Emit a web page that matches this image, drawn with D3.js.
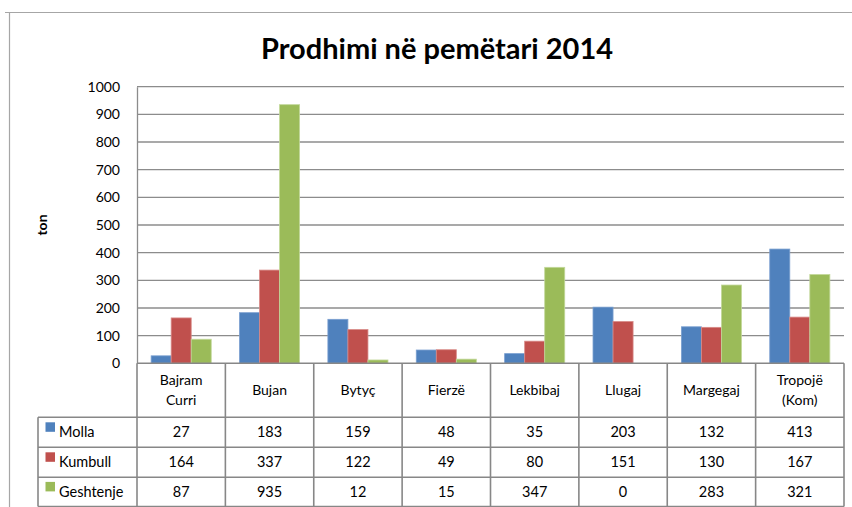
<!DOCTYPE html>
<html>
<head>
<meta charset="utf-8">
<script src="https://cdn.jsdelivr.net/npm/d3@7"></script>
<style>
  body { margin: 0; background: #fff; }
  svg { display: block; font-family: Lato, "Open Sans", sans-serif; }
</style>
</head>
<body>
<svg id="chart" width="852" height="507"></svg>
<script>
const categories = ['Bajram Curri', 'Bujan', 'Bytyç', 'Fierzë', 'Lekbibaj', 'Llugaj', 'Margegaj', 'Tropojë (Kom)'];
const seriesNames = ['Molla', 'Kumbull', 'Geshtenje'];
const molla = [27, 183, 159, 48, 35, 203, 132, 413];
const kumbull = [164, 337, 122, 49, 80, 151, 130, 167];
const geshtenje = [87, 935, 12, 15, 347, 0, 283, 321];
const yTicks = [0, 100, 200, 300, 400, 500, 600, 700, 800, 900, 1000];
const colors = ['#4F81BD', '#C0504D', '#9BBB59'];
const strokes = ['#7a9fd0', '#d88a88', '#c2d89a'];

const series = [molla, kumbull, geshtenje];

const svg = d3.select('#chart');

const plot = { left: 137, right: 844, top: 86.7, bottom: 363.3 };
const rows = [363.3, 417.3, 447.3, 477.3, 506.5];
const legendLeft = 38;

// outer frame
svg.append('path')
    .attr('d', 'M5,12.5 H852 M9.5,12.5 V507')
    .attr('stroke', '#a6a6a6')
    .attr('stroke-width', 1.2)
    .attr('fill', 'none');

svg.append('text')
    .attr('x', 437)
    .attr('y', 58.5)
    .attr('text-anchor', 'middle')
    .attr('font-size', 29)
    .attr('font-weight', 'bold')
    .attr('fill', '#000')
    .text('Prodhimi në pemëtari 2014');

const x = d3.scaleBand()
    .domain(categories)
    .range([plot.left, plot.right])
    .paddingInner(0.32)
    .paddingOuter(0.16);

const xs = d3.scaleBand()
    .domain(d3.range(series.length))
    .range([0, x.bandwidth()]);

const y = d3.scaleLinear()
    .domain([0, 1000])
    .range([plot.bottom, plot.top]);

// gridlines
svg.append('g')
    .selectAll('line')
    .data(yTicks.filter(d => d > 0))
    .join('line')
    .attr('x1', plot.left)
    .attr('x2', plot.right)
    .attr('y1', d => y(d))
    .attr('y2', d => y(d))
    .attr('stroke', '#8c8c8c')
    .attr('stroke-width', 1.3);

const yAxis = svg.append('g')
    .attr('transform', `translate(${plot.left},0)`)
    .call(d3.axisLeft(y).tickValues(yTicks).tickFormat(d3.format('d')).tickSize(0).tickPadding(17));
yAxis.select('.domain').attr('stroke', '#8c8c8c').attr('stroke-width', 1.3);
yAxis.selectAll('text')
    .attr('font-size', 14)
    .attr('font-family', 'Lato, sans-serif')
    .attr('fill', '#000');

svg.append('text')
    .attr('transform', `translate(47,${(plot.top + plot.bottom) / 2}) rotate(-90)`)
    .attr('text-anchor', 'middle')
    .attr('font-size', 14)
    .attr('font-weight', 'bold')
    .text('ton');

// bars
series.forEach((vals, si) => {
    svg.append('g')
        .selectAll('rect')
        .data(vals)
        .join('rect')
        .attr('x', (d, i) => x(categories[i]) + xs(si))
        .attr('y', d => y(d))
        .attr('width', xs.bandwidth())
        .attr('height', d => y(0) - y(d))
        .attr('fill', colors[si])
        .attr('stroke', d => d > 0 ? strokes[si] : 'none')
        .attr('stroke-width', 0.8);
});

// data table
const step = x.step();
const colEdges = categories.map((c, i) => plot.left + i * step);
const tbl = svg.append('g')
    .attr('stroke', '#878787')
    .attr('stroke-width', 1.6)
    .attr('fill', 'none');

tbl.append('line')
    .attr('x1', plot.left).attr('x2', plot.right)
    .attr('y1', rows[0]).attr('y2', rows[0]);
tbl.selectAll('line.v')
    .data(colEdges.concat([plot.right]))
    .join('line')
    .attr('class', 'v')
    .attr('x1', d => d).attr('x2', d => d)
    .attr('y1', rows[0]).attr('y2', rows[4]);
tbl.selectAll('line.h')
    .data(rows.slice(1))
    .join('line')
    .attr('class', 'h')
    .attr('x1', legendLeft).attr('x2', plot.right)
    .attr('y1', d => d).attr('y2', d => d);
tbl.append('line')
    .attr('x1', legendLeft).attr('x2', legendLeft)
    .attr('y1', rows[1]).attr('y2', rows[4]);

// header labels
categories.forEach(c => {
    const parts = c.split(' ');
    const cx = x(c) + x.bandwidth() / 2;
    const mid = (rows[0] + rows[1]) / 2;
    const t = svg.append('text')
        .attr('x', cx)
        .attr('text-anchor', 'middle')
        .attr('font-size', 14)
        .attr('fill', '#000');
    parts.forEach((p, k) => {
        t.append('tspan')
            .attr('x', cx)
            .attr('y', mid + 5 + (k - (parts.length - 1) / 2) * 20)
            .text(p);
    });
});

// rows
series.forEach((vals, si) => {
    const mid = (rows[si + 1] + rows[si + 2]) / 2;
    svg.append('rect')
        .attr('x', 45.5)
        .attr('y', mid - 10)
        .attr('width', 9.5)
        .attr('height', 9.5)
        .attr('fill', colors[si]);
    svg.append('text')
        .attr('x', 59)
        .attr('y', mid + 5)
        .attr('font-size', 14.5)
        .text(seriesNames[si]);
    svg.append('g')
        .selectAll('text')
        .data(vals)
        .join('text')
        .attr('x', (d, i) => x(categories[i]) + x.bandwidth() / 2)
        .attr('y', mid + 5)
        .attr('text-anchor', 'middle')
        .attr('font-size', 14.5)
        .text(d => d);
});
</script>
</body>
</html>
